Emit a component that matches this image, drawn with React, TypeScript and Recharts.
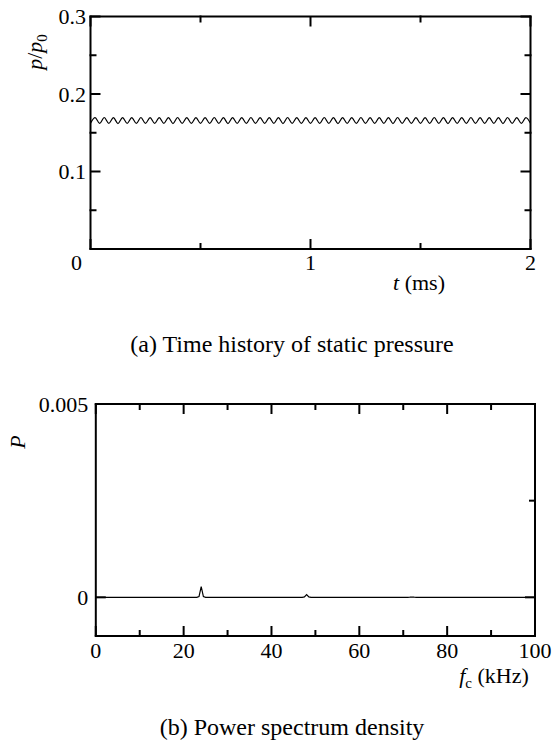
import React from 'react';
import { LineChart, Line, XAxis, YAxis } from 'recharts';

// (a) static pressure, sampled at peaks / troughs of the ~24 kHz ripple
const T_END = 2;
const P_RATIO = [
  0.1623, 0.1695, 0.1620, 0.1697, 0.1621, 0.1694, 0.1619, 0.1696, 0.1622, 0.1695,
  0.1620, 0.1697, 0.1621, 0.1694, 0.1620, 0.1696, 0.1622, 0.1695, 0.1619, 0.1697,
  0.1621, 0.1694, 0.1620, 0.1696, 0.1622, 0.1695, 0.1620, 0.1697, 0.1621, 0.1694,
  0.1619, 0.1696, 0.1622, 0.1695, 0.1620, 0.1697, 0.1621, 0.1694, 0.1620, 0.1696,
  0.1622, 0.1695, 0.1619, 0.1697, 0.1621, 0.1694, 0.1620, 0.1696, 0.1622, 0.1695,
  0.1620, 0.1697, 0.1621, 0.1694, 0.1619, 0.1696, 0.1622, 0.1695, 0.1620, 0.1697,
  0.1621, 0.1694, 0.1620, 0.1696, 0.1622, 0.1695, 0.1619, 0.1697, 0.1621, 0.1694,
  0.1620, 0.1696, 0.1622, 0.1695, 0.1620, 0.1697, 0.1621, 0.1694, 0.1619, 0.1696,
  0.1622, 0.1695, 0.1620, 0.1697, 0.1621, 0.1694, 0.1620, 0.1696, 0.1622, 0.1695,
  0.1619, 0.1697, 0.1621, 0.1694, 0.1620, 0.1696, 0.1622,
];
const T_TICKS = [0, 1, 2];
const T_MINOR = [0.5, 1.5];
const P_TICKS = [0.1, 0.2, 0.3];
const P_MINOR = [0.05, 0.15, 0.25];

// (b) power spectrum density
const FREQ = [0, 10, 20, 23, 23.5, 24, 24.5, 25, 47, 47.5, 48, 48.5, 49, 71, 71.5, 72, 72.5, 73, 100];
const PSD = [0, 0, 0, 0, 0.00002, 0.00028, 0.00002, 0, 0, 0.00001, 0.00007, 0.00001, 0, 0, 0.000003, 0.000008, 0.000003, 0, 0];
const F_TICKS = [0, 20, 40, 60, 80, 100];
const F_MINOR = [10, 30, 50, 70, 90];
const PSD_TICKS = [0, 0.005];
const PSD_MINOR = [0.0025];

const waveData = P_RATIO.map((p, i) => ({ t: (i * T_END) / (P_RATIO.length - 1), p }));
const psdData = FREQ.map((f, i) => ({ f, P: PSD[i] }));

const FONT = '"Liberation Serif", "Times New Roman", serif';
const axisLine = { stroke: '#000', strokeWidth: 2, strokeLinecap: 'square' as const };
const tickLine = { stroke: '#000', strokeWidth: 2 };

// tick marks only, no text
const noLabel = () => <g />;

const xTick = (shiftZero: number) => (props: any) => {
  const { x, y, payload } = props;
  const dx = payload.value === 0 ? shiftZero : 0;
  return (
    <text x={x + dx} y={y} dy="0.71em" textAnchor="middle" fontFamily={FONT} fontSize={22} fill="#000">
      {payload.value}
    </text>
  );
};

const yTick = (props: any) => {
  const { x, y, payload } = props;
  return (
    <text x={x} y={y} dy="0.355em" textAnchor="end" fontFamily={FONT} fontSize={22} fill="#000">
      {payload.value}
    </text>
  );
};

const txt = (left: number, top: number, size: number, rotate = false): React.CSSProperties => ({
  position: 'absolute',
  left,
  top,
  transform: `translate(-50%, -50%)${rotate ? ' rotate(-90deg)' : ''}`,
  fontFamily: FONT,
  fontSize: size,
  lineHeight: 1,
  whiteSpace: 'nowrap',
  color: '#000',
});

// every axis is 1px thick (recharts skips 0-sized axes), margins account for it
export default function App() {
  return (
    <div style={{ position: 'absolute', left: 0, top: 0, width: 552, height: 743, background: '#fff' }}>
      <div style={{ position: 'absolute', left: 0, top: 0 }}>
        <LineChart width={552} height={300} data={waveData} margin={{ top: 14.5, right: 19.5, bottom: 49, left: 88.5 }}>
          <XAxis xAxisId="b" dataKey="t" type="number" domain={[0, 2]} allowDataOverflow ticks={T_TICKS} height={1}
            tickSize={-10} tickMargin={15} axisLine={axisLine} tickLine={tickLine} tick={xTick(-14)} interval={0} />
          <XAxis xAxisId="bm" dataKey="t" type="number" domain={[0, 2]} allowDataOverflow ticks={T_MINOR} height={1}
            tickSize={-7} axisLine={false} tickLine={tickLine} tick={noLabel} interval={0} />
          <XAxis xAxisId="t" dataKey="t" orientation="top" type="number" domain={[0, 2]} allowDataOverflow ticks={T_TICKS} height={1}
            tickSize={-10} axisLine={axisLine} tickLine={tickLine} tick={noLabel} interval={0} />
          <XAxis xAxisId="tm" dataKey="t" orientation="top" type="number" domain={[0, 2]} allowDataOverflow ticks={T_MINOR} height={1}
            tickSize={-7} axisLine={false} tickLine={tickLine} tick={noLabel} interval={0} />
          <YAxis yAxisId="l" dataKey="p" type="number" domain={[0, 0.3]} allowDataOverflow ticks={P_TICKS} width={1}
            tickSize={-10} tickMargin={14.5} axisLine={axisLine} tickLine={tickLine} tick={yTick} interval={0} />
          <YAxis yAxisId="lm" dataKey="p" type="number" domain={[0, 0.3]} allowDataOverflow ticks={P_MINOR} width={1}
            tickSize={-7} axisLine={false} tickLine={tickLine} tick={noLabel} interval={0} />
          <YAxis yAxisId="r" dataKey="p" orientation="right" type="number" domain={[0, 0.3]} allowDataOverflow ticks={P_TICKS} width={1}
            tickSize={-10} axisLine={axisLine} tickLine={tickLine} tick={noLabel} interval={0} />
          <YAxis yAxisId="rm" dataKey="p" orientation="right" type="number" domain={[0, 0.3]} allowDataOverflow ticks={P_MINOR} width={1}
            tickSize={-7} axisLine={false} tickLine={tickLine} tick={noLabel} interval={0} />
          <Line xAxisId="b" yAxisId="l" dataKey="p" type="monotone" stroke="#000" strokeWidth={1.2} dot={false} isAnimationActive={false} />
        </LineChart>
      </div>

      <div style={{ position: 'absolute', left: 0, top: 360 }}>
        <LineChart width={552} height={320} data={psdData} margin={{ top: 42, right: 15, bottom: 42, left: 94.8 }}>
          <XAxis xAxisId="b" dataKey="f" type="number" domain={[0, 100]} allowDataOverflow ticks={F_TICKS} height={1}
            tickSize={-10} tickMargin={16} axisLine={axisLine} tickLine={tickLine} tick={xTick(0)} interval={0} />
          <XAxis xAxisId="bm" dataKey="f" type="number" domain={[0, 100]} allowDataOverflow ticks={F_MINOR} height={1}
            tickSize={-7} axisLine={false} tickLine={tickLine} tick={noLabel} interval={0} />
          <XAxis xAxisId="t" dataKey="f" orientation="top" type="number" domain={[0, 100]} allowDataOverflow ticks={F_TICKS} height={1}
            tickSize={-10} axisLine={axisLine} tickLine={tickLine} tick={noLabel} interval={0} />
          <XAxis xAxisId="tm" dataKey="f" orientation="top" type="number" domain={[0, 100]} allowDataOverflow ticks={F_MINOR} height={1}
            tickSize={-7} axisLine={false} tickLine={tickLine} tick={noLabel} interval={0} />
          <YAxis yAxisId="l" dataKey="P" type="number" domain={[-0.001, 0.005]} allowDataOverflow ticks={PSD_TICKS} width={1}
            tickSize={-10} tickMargin={17.5} axisLine={axisLine} tickLine={tickLine} tick={yTick} interval={0} />
          <YAxis yAxisId="r" dataKey="P" orientation="right" type="number" domain={[-0.001, 0.005]} allowDataOverflow ticks={PSD_TICKS} width={1}
            tickSize={-10} axisLine={axisLine} tickLine={tickLine} tick={noLabel} interval={0} />
          <YAxis yAxisId="rm" dataKey="P" orientation="right" type="number" domain={[-0.001, 0.005]} allowDataOverflow ticks={PSD_MINOR} width={1}
            tickSize={-7} axisLine={false} tickLine={tickLine} tick={noLabel} interval={0} />
          <Line xAxisId="b" yAxisId="l" dataKey="P" type="linear" stroke="#000" strokeWidth={1.2} dot={false} isAnimationActive={false} />
        </LineChart>
      </div>

      <div style={txt(36.5, 52, 22, true)}>
        <i>p</i>/<i>p</i><sub style={{ fontSize: 15 }}>0</sub>
      </div>
      <div style={txt(419, 283, 22)}>
        <i>t</i> (ms)
      </div>
      <div style={txt(292, 344, 24)}>(a) Time history of static pressure</div>

      <div style={txt(17.5, 442, 22, true)}>
        <i>P</i>
      </div>
      <div style={txt(494, 678, 22)}>
        <i>f</i><sub style={{ fontSize: 15 }}>c</sub> (kHz)
      </div>
      <div style={txt(292, 727, 24)}>(b) Power spectrum density</div>
    </div>
  );
}
